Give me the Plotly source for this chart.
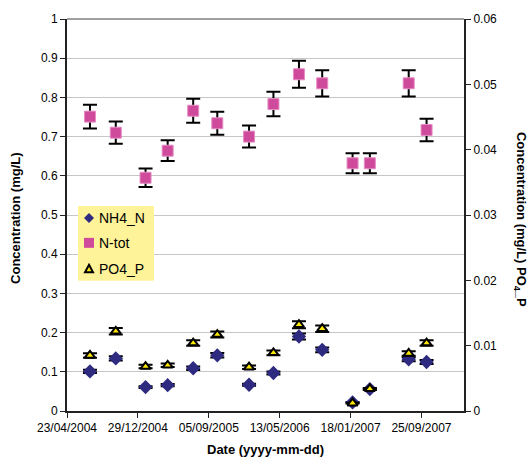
import plotly.graph_objects as go

# Sampling dates
dates = [
    "2004-07-13", "2004-10-12", "2005-01-25", "2005-04-13", "2005-07-12",
    "2005-10-05", "2006-01-25", "2006-04-21", "2006-07-20", "2006-10-10",
    "2007-01-25", "2007-03-27", "2007-08-11", "2007-10-13",
]

# Concentrations (mg/L)
nh4_n = [0.101, 0.134, 0.061, 0.066, 0.109, 0.142, 0.067,
         0.097, 0.190, 0.156, 0.022, 0.056, 0.132, 0.125]
n_tot = [0.751, 0.710, 0.595, 0.664, 0.766, 0.734, 0.700,
         0.783, 0.859, 0.836, 0.632, 0.632, 0.836, 0.717]
po4_p = [0.0085, 0.0122, 0.0068, 0.0070, 0.0104, 0.0117, 0.0067,
         0.0089, 0.0132, 0.0126, 0.0012, 0.0034, 0.0088, 0.0104]

series_names = ["NH4_N", "N-tot", "PO4_P"]

# Relative uncertainty applied to every measurement (%)
error_pct = 4

FONT = "Liberation Sans, Arial, sans-serif"
AXIS_COLOR = "#222222"
GRID_COLOR = "#C6C6C6"
NAVY = "#2E2A80"
MAGENTA = "#D04A9C"
YELLOW = "#FFE800"

W, H = 528, 461
M_L, M_R, M_T, M_B = 67, 64, 17, 50
PLOT_W = W - M_L - M_R
PLOT_H = H - M_T - M_B


def px(x):
    """Pixel column -> paper x."""
    return (x - M_L) / PLOT_W


def py(y):
    """Pixel row -> paper y."""
    return (H - M_B - y) / PLOT_H


def err():
    return dict(type="percent", value=error_pct, color="black",
                thickness=2, width=7, visible=True)


fig = go.Figure()

fig.add_trace(go.Scatter(
    x=dates, y=nh4_n, name=series_names[0], mode="markers",
    marker=dict(symbol="diamond", size=11, color=NAVY, line=dict(width=0)),
    error_y=err(), yaxis="y",
))
fig.add_trace(go.Scatter(
    x=dates, y=n_tot, name=series_names[1], mode="markers",
    marker=dict(symbol="square", size=11, color=MAGENTA,
                line=dict(width=1, color="#E58CC4")),
    error_y=err(), yaxis="y",
))
fig.add_trace(go.Scatter(
    x=dates, y=po4_p, name=series_names[2], mode="markers",
    marker=dict(symbol="triangle-up", size=9, color=YELLOW,
                line=dict(width=2, color="black")),
    error_y=err(), yaxis="y2",
))

# Compact legend box drawn with shapes and annotations
box = dict(type="rect", xref="paper", yref="paper", layer="above",
           x0=px(78), x1=px(154), y0=py(280), y1=py(205),
           fillcolor="#FFF39A", line=dict(width=0))

rows = [217, 242, 268]
sx = 89


def path_shape(points, fill, line_color=None, line_width=0):
    d = "M " + " L ".join(f"{px(a):.5f},{py(b):.5f}" for a, b in points) + " Z"
    return dict(type="path", xref="paper", yref="paper", layer="above",
                path=d, fillcolor=fill,
                line=dict(color=line_color or fill, width=line_width))


diamond = path_shape([(sx, rows[0] - 5), (sx + 5, rows[0]),
                      (sx, rows[0] + 5), (sx - 5, rows[0])], NAVY)
square = path_shape([(sx - 5, rows[1] - 5), (sx + 5, rows[1] - 5),
                     (sx + 5, rows[1] + 5), (sx - 5, rows[1] + 5)], MAGENTA)
triangle = path_shape([(sx, rows[2] - 4), (sx + 4, rows[2] + 3.5),
                       (sx - 4, rows[2] + 3.5)], YELLOW, "black", 2)

legend_text = [
    dict(text=name, xref="paper", yref="paper", x=px(97), y=py(r),
         xanchor="left", yanchor="middle", showarrow=False,
         font=dict(size=14, family=FONT, color="black"))
    for name, r in zip(series_names, rows)
]

fig.update_layout(
    width=W, height=H,
    margin=dict(l=M_L, r=M_R, t=M_T, b=M_B),
    paper_bgcolor="white", plot_bgcolor="white",
    font=dict(family=FONT, size=12, color="black"),
    showlegend=False,
    xaxis=dict(
        type="date",
        range=["2004-04-23", "2008-02-22"],
        tick0="2004-04-23", dtick=250 * 86400000,
        tickformat="%d/%m/%Y",
        showgrid=False, zeroline=False,
        showline=True, linecolor=AXIS_COLOR, linewidth=2,
        ticks="outside", ticklen=5, tickcolor=AXIS_COLOR,
        tickfont=dict(size=12),
    ),
    yaxis=dict(
        range=[0, 1], dtick=0.1,
        showgrid=True, gridcolor=GRID_COLOR, gridwidth=1,
        zeroline=False,
        showline=True, linecolor=AXIS_COLOR, linewidth=2,
        ticks="outside", ticklen=5, tickcolor=AXIS_COLOR,
        tickfont=dict(size=12),
    ),
    yaxis2=dict(
        range=[0, 0.06], dtick=0.01,
        overlaying="y", side="right",
        showgrid=False, zeroline=False,
        showline=True, linecolor=AXIS_COLOR, linewidth=2,
        ticks="outside", ticklen=5, tickcolor=AXIS_COLOR,
        tickfont=dict(size=12),
    ),
    shapes=[
        dict(type="line", xref="paper", yref="paper",
             x0=0, x1=1, y0=1, y1=1,
             line=dict(color="#808080", width=1.5)),
        box, diamond, square, triangle,
    ],
    annotations=[
        dict(text="<b>Concentration (mg/L)</b>", xref="paper", yref="paper",
             x=px(16), y=0.49, textangle=-90, showarrow=False,
             xanchor="center", yanchor="middle",
             font=dict(size=13)),
        dict(text="<b>Concentration (mg/L) PO<sub>4</sub>_P</b>",
             xref="paper", yref="paper",
             x=px(520), y=0.49, textangle=90, showarrow=False,
             xanchor="center", yanchor="middle",
             font=dict(size=13)),
        dict(text="<b>Date (yyyy-mm-dd)</b>", xref="paper", yref="paper",
             x=0.5, y=py(450), showarrow=False,
             xanchor="center", yanchor="middle",
             font=dict(size=13)),
    ] + legend_text,
)

fig.write_html("out.html")
